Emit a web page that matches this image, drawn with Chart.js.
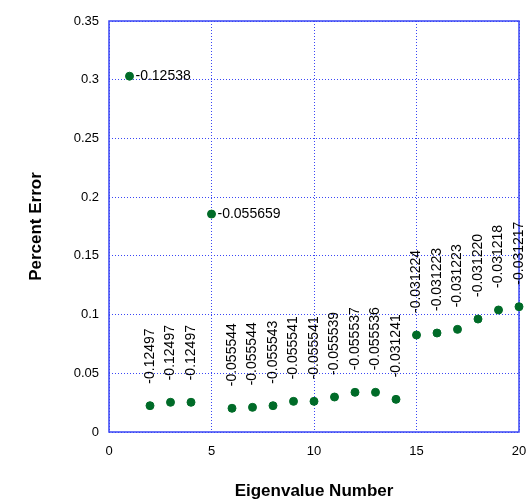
<!DOCTYPE html>
<html>
<head>
<meta charset="utf-8">
<script src="https://cdn.jsdelivr.net/npm/chart.js@4.4.1/dist/chart.umd.min.js"></script>
<style>
    html, body { margin: 0; padding: 0; background: #fff; }
    #wrap { width: 526px; height: 500px; }
</style>
</head>
<body>
<div id="wrap"><canvas id="grafica"></canvas></div>
<script>
// --- DATOS ---
const eigenNum = [1, 2, 3, 4, 5, 6, 7, 8, 9, 10, 11, 12, 13, 14, 15, 16, 17, 18, 19, 20];
const percentError = [0.303, 0.0224, 0.0253, 0.0253, 0.1856, 0.0202, 0.0210, 0.0224, 0.0261, 0.0261,
                      0.0298, 0.0338, 0.0338, 0.0278, 0.0826, 0.0843, 0.0874, 0.0962, 0.1039, 0.1067];
const pointLabels = ['-0.12538', '-0.12497', '-0.12497', '-0.12497', '-0.055659',
                     '-0.055544', '-0.055544', '-0.055543', '-0.055541', '-0.055541',
                     '-0.055539', '-0.055537', '-0.055536', '-0.031241', '-0.031224',
                     '-0.031223', '-0.031223', '-0.031220', '-0.031218', '-0.031217'];
const horizontalLabels = [1, 5]; // estos van a la derecha del punto
const xTicks = [0, 5, 10, 15, 20];
const yTicks = [0, 0.05, 0.1, 0.15, 0.2, 0.25, 0.3, 0.35];

const AZUL = '#3a46f5';
const VERDE = '#006b28';
const FUENTE = '"Liberation Sans", Arial, sans-serif';

// etiquetas de cada punto
const etiquetasPlugin = {
    id: 'etiquetas',
    afterDatasetsDraw(chart) {
        const ctx = chart.ctx;
        const meta = chart.getDatasetMeta(0);
        ctx.save();
        ctx.font = '14px ' + FUENTE;
        ctx.fillStyle = '#000';
        ctx.textBaseline = 'middle';
        ctx.textAlign = 'left';
        meta.data.forEach((pt, i) => {
            if (horizontalLabels.includes(eigenNum[i])) {
                ctx.fillText(pointLabels[i], pt.x + 6, pt.y);
            } else {
                ctx.save();
                ctx.translate(pt.x, pt.y - 22);
                ctx.rotate(-Math.PI / 2);
                ctx.fillText(pointLabels[i], 0, 0);
                ctx.restore();
            }
        });
        ctx.restore();
    }
};

// marco solido alrededor del area
const marcoPlugin = {
    id: 'marco',
    beforeDatasetsDraw(chart) {
        const { ctx, chartArea: a } = chart;
        ctx.save();
        ctx.strokeStyle = AZUL;
        ctx.lineWidth = 1.5;
        ctx.strokeRect(a.left, a.top, a.right - a.left, a.bottom - a.top);
        ctx.restore();
    }
};

const ctx = document.getElementById('grafica').getContext('2d');
new Chart(ctx, {
    type: 'scatter',
    data: {
        datasets: [{
            data: eigenNum.map((x, i) => ({ x: x, y: percentError[i] })),
            backgroundColor: VERDE,
            borderColor: VERDE,
            pointRadius: 4,
            pointHoverRadius: 4,
            clip: false
        }]
    },
    options: {
        responsive: true,
        maintainAspectRatio: false,
        animation: false,
        layout: { padding: { top: 21, right: 7, left: 0, bottom: 0 } },
        plugins: { legend: { display: false }, tooltip: { enabled: false } },
        scales: {
            x: {
                type: 'linear', min: 0, max: 20,
                afterFit: s => { s.height = 68; s.paddingLeft = 0; s.paddingRight = 0; },
                afterBuildTicks: s => { s.ticks = xTicks.map(v => ({ value: v })); },
                grid: { color: AZUL, lineWidth: 1, drawTicks: false },
                border: { display: false, dash: [1, 2] },
                ticks: { color: '#000', font: { size: 13, family: FUENTE }, padding: 12, maxRotation: 0 },
                title: {
                    display: true, text: 'Eigenvalue Number', color: '#000',
                    font: { size: 17, weight: 'bold', family: FUENTE, lineHeight: 1 },
                    padding: { top: 0, bottom: 0 }
                }
            },
            y: {
                type: 'linear', min: 0, max: 0.35,
                afterFit: s => { s.width = 109; s.paddingTop = 0; s.paddingBottom = 0; },
                afterBuildTicks: s => { s.ticks = yTicks.map(v => ({ value: v })); },
                grid: { color: AZUL, lineWidth: 1, drawTicks: false },
                border: { display: false, dash: [1, 2] },
                ticks: {
                    color: '#000', font: { size: 13, family: FUENTE }, padding: 10,
                    callback: v => String(+v.toFixed(2))
                },
                title: {
                    display: true, text: 'Percent Error', color: '#000',
                    font: { size: 17, weight: 'bold', family: FUENTE, lineHeight: 1 },
                    padding: { top: 28, bottom: 0 }
                }
            }
        }
    },
    plugins: [marcoPlugin, etiquetasPlugin]
});
</script>
</body>
</html>
